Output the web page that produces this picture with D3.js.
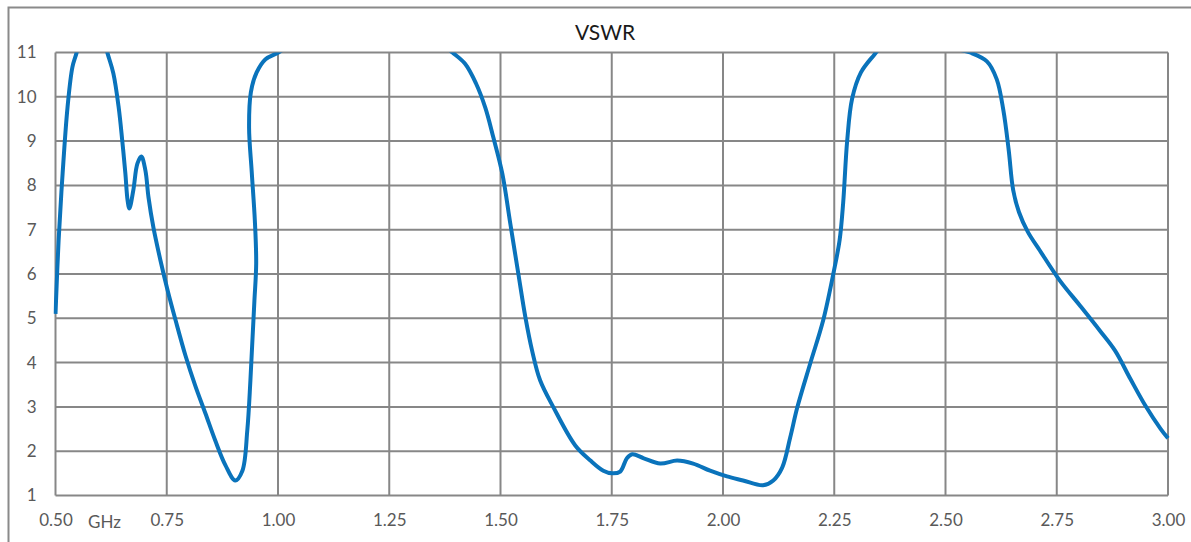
<!DOCTYPE html>
<html>
<head>
<meta charset="utf-8">
<script src="https://cdn.jsdelivr.net/npm/d3@7"></script>
<style>
    body { margin: 0; background: #fff; }
    svg { display: block; font-family: Lato, "Open Sans", sans-serif; }
</style>
</head>
<body>
<div id="chart"></div>
<script>
// frequency in GHz (points above 11 are clipped in the chart)
const freq = [0.500, 0.507, 0.516, 0.527, 0.538, 0.547, 0.560, 0.580, 0.600, 0.617,
    0.630, 0.642, 0.650, 0.657, 0.662, 0.666, 0.675, 0.684, 0.693, 0.702,
    0.709, 0.720, 0.736, 0.752, 0.770, 0.792, 0.814, 0.837, 0.859, 0.882,
    0.904, 0.920, 0.931, 0.938, 0.943, 0.947, 0.951, 0.948, 0.941, 0.935,
    0.939, 0.952, 0.972, 1.001, 1.040, 1.200, 1.360, 1.392, 1.420, 1.445,
    1.466, 1.484, 1.504, 1.522, 1.540, 1.556, 1.571, 1.589, 1.619, 1.668, 1.702,
    1.731, 1.751, 1.769, 1.784, 1.796, 1.822, 1.859, 1.897, 1.933, 1.971,
    2.009, 2.045, 2.090, 2.113, 2.133, 2.151, 2.167, 2.196, 2.225, 2.248,
    2.262, 2.270, 2.279, 2.290, 2.310, 2.340, 2.380, 2.450, 2.500, 2.555,
    2.593, 2.615, 2.630, 2.642, 2.652, 2.665, 2.685, 2.712, 2.757, 2.802,
    2.847, 2.881, 2.915, 2.949, 2.983, 3.000];
const vswr = [5.10, 6.76, 8.27, 9.76, 10.67, 10.98, 11.5, 11.8, 11.6, 10.98,
    10.53, 9.76, 9.01, 8.27, 7.66, 7.48, 7.90, 8.49, 8.65, 8.34,
    7.73, 7.05, 6.30, 5.63, 4.95, 4.16, 3.48, 2.85, 2.24, 1.68,
    1.34, 1.56, 2.47, 3.60, 4.60, 5.40, 6.24, 7.20, 8.30, 9.30,
    10.10, 10.55, 10.85, 11.0, 11.25, 11.8, 11.25, 11.0, 10.75, 10.30,
    9.75, 9.08, 8.27, 7.14, 6.01, 5.02, 4.27, 3.60, 2.99, 2.13, 1.79,
    1.56, 1.50, 1.54, 1.84, 1.93, 1.84, 1.72, 1.79, 1.72, 1.56,
    1.43, 1.34, 1.23, 1.34, 1.63, 2.31, 2.99, 3.98, 4.95, 6.01,
    6.76, 7.60, 9.00, 9.95, 10.55, 10.95, 11.4, 11.5, 11.15, 11.0,
    10.80, 10.40, 9.70, 8.80, 7.90, 7.40, 6.95, 6.53, 5.85, 5.29,
    4.72, 4.27, 3.64, 3.03, 2.51, 2.29];

const xTicks = [0.5, 0.75, 1.0, 1.25, 1.5, 1.75, 2.0, 2.25, 2.5, 2.75, 3.0];
const yTicks = [1, 2, 3, 4, 5, 6, 7, 8, 9, 10, 11];
const title = 'VSWR';
const unitLabel = 'GHz';

const W = 1191, H = 542;
const margin = { left: 55.5, top: 52.5, right: 23, bottom: 46.5 };
const width = W - margin.left - margin.right;
const height = H - margin.top - margin.bottom;

const svg = d3.select('#chart').append('svg')
    .attr('width', W)
    .attr('height', H);

// outer chart frame (runs off the right and bottom edge)
svg.append('rect')
    .attr('x', 8.5).attr('y', 7.5)
    .attr('width', W + 20).attr('height', H + 20)
    .attr('fill', 'none')
    .attr('stroke', '#8a8a8a')
    .attr('stroke-width', 2);

svg.append('text')
    .attr('x', 605)
    .attr('y', 40)
    .attr('text-anchor', 'middle')
    .style('font-size', '21px')
    .style('fill', '#1a1a1a')
    .text(title);

const g = svg.append('g')
    .attr('transform', `translate(${margin.left}, ${margin.top})`);

const x = d3.scaleLinear().domain([0.5, 3.0]).range([0, width]);
const y = d3.scaleLinear().domain([1, 11]).range([height, 0]);

// grid
g.append('g')
    .selectAll('line')
    .data(xTicks)
    .enter().append('line')
    .attr('x1', (d) => x(d)).attr('x2', (d) => x(d))
    .attr('y1', 0).attr('y2', height)
    .attr('stroke', '#878787')
    .attr('stroke-width', 2);

g.append('g')
    .selectAll('line')
    .data(yTicks)
    .enter().append('line')
    .attr('x1', 0).attr('x2', width)
    .attr('y1', (d) => y(d)).attr('y2', (d) => y(d))
    .attr('stroke', '#878787')
    .attr('stroke-width', 2);

// axes labels
const xAxis = d3.axisBottom(x).tickValues(xTicks).tickFormat(d3.format('.2f')).tickSize(0).tickPadding(18);
const yAxis = d3.axisLeft(y).tickValues(yTicks).tickFormat(d3.format('d')).tickSize(0).tickPadding(19);

g.append('g')
    .attr('transform', `translate(0, ${height})`)
    .call(xAxis)
    .call((a) => a.select('.domain').remove())
    .selectAll('text')
    .style('font-size', '17px')
    .style('font-family', 'Lato, "Open Sans", sans-serif')
    .style('fill', '#595959');

g.append('g')
    .call(yAxis)
    .call((a) => a.select('.domain').remove())
    .selectAll('text')
    .style('font-size', '17px')
    .style('font-family', 'Lato, "Open Sans", sans-serif')
    .style('fill', '#595959');

g.append('text')
    .attr('x', x(0.61))
    .attr('y', height + 32)
    .attr('text-anchor', 'middle')
    .style('font-size', '17px')
    .style('fill', '#595959')
    .text(unitLabel);

// curve, clipped to the plot area
g.append('clipPath')
    .attr('id', 'plot-clip')
    .append('rect')
    .attr('x', -2).attr('y', 0)
    .attr('width', width + 4).attr('height', height);

const points = freq.map((f, i) => ({ f, v: vswr[i] }));
const line = d3.line()
    .x((d) => x(d.f))
    .y((d) => y(d.v))
    .curve(d3.curveCatmullRom.alpha(0.5));

g.append('path')
    .datum(points)
    .attr('clip-path', 'url(#plot-clip)')
    .attr('d', line)
    .attr('fill', 'none')
    .attr('stroke', '#0a73bb')
    .attr('stroke-width', 4)
    .attr('stroke-linejoin', 'round');
</script>
</body>
</html>
